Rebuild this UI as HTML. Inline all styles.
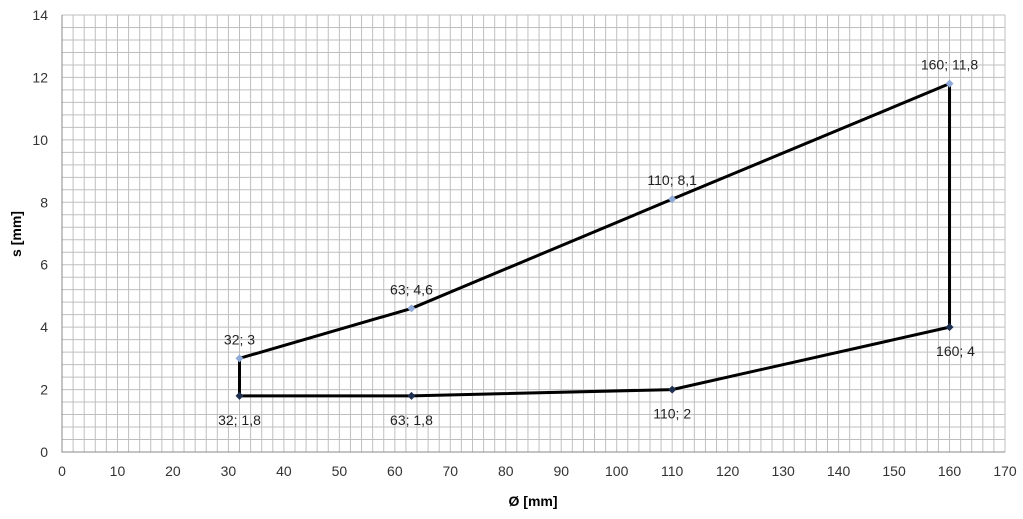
<!DOCTYPE html>
<html><head><meta charset="utf-8"><style>
body{margin:0;background:#fff;width:1023px;height:514px;overflow:hidden}
svg{font-family:"Liberation Sans",Calibri,sans-serif}
</style></head><body>
<svg width="1023" height="514">
<g id="grid"></g>
<g id="axes"></g>
<g id="series"></g>
<text x="533" y="506" font-size="14" font-weight="bold" text-anchor="middle">Ø [mm]</text>
<text transform="translate(21,234) rotate(-90)" font-size="14" font-weight="bold" text-anchor="middle">s [mm]</text>
</svg>
<script>
const upperX=[32,63,110,160];
const upperY=[3,4.6,8.1,11.8];
const lowerX=[32,63,110,160];
const lowerY=[1.8,1.8,2,4];
const upperLabels=["32; 3","63; 4,6","110; 8,1","160; 11,8"];
const lowerLabels=["32; 1,8","63; 1,8","110; 2","160; 4"];
const xTicks=[0,10,20,30,40,50,60,70,80,90,100,110,120,130,140,150,160,170];
const yTicks=[0,2,4,6,8,10,12,14];
const X0=62,X1=1005,Y0=452,Y1=15;
const sx=v=>X0+(X1-X0)*v/170, sy=v=>Y0-(Y0-Y1)*v/14;
const NS="http://www.w3.org/2000/svg";
function mk(p,t,a){const e=document.createElementNS(NS,t);for(const k in a)e.setAttribute(k,a[k]);p.appendChild(e);return e;}
const grid=document.getElementById('grid'),axes=document.getElementById('axes'),ser=document.getElementById('series');
for(let v=0;v<=170;v+=2){const l=mk(grid,'line',{x1:sx(v),x2:sx(v),y1:Y1,y2:Y0,stroke:'#bfbfbf','stroke-width':1});
}
for(let i=0;i<=35;i++){const v=i*0.4;const l=mk(grid,'line',{x1:X0,x2:X1,y1:sy(v),y2:sy(v),stroke:'#bfbfbf','stroke-width':1});
}
const ax=mk(axes,'path',{d:`M${X0},${Y1}V${Y0}H${X1}`,stroke:'#888',fill:'none'});

xTicks.forEach(v=>{const t=mk(axes,'text',{x:sx(v),y:Y0+24,'font-size':14,'text-anchor':'middle',fill:'#333'});t.textContent=v;
});
yTicks.forEach(v=>{const t=mk(axes,'text',{x:X0-14,y:sy(v)+5,'font-size':14,'text-anchor':'end',fill:'#333'});t.textContent=v;
});
let pts=[];upperX.forEach((x,i)=>pts.push([sx(x),sy(upperY[i])]));
for(let i=lowerX.length-1;i>=0;i--)pts.push([sx(lowerX[i]),sy(lowerY[i])]);
const poly=mk(ser,'polygon',{points:pts.map(p=>p.join(',')).join(' '),fill:'none',stroke:'#000','stroke-width':3,'stroke-linejoin':'miter'});

function dia(x,y,c,name){const d=mk(ser,'path',{d:`M${x},${y-4}L${x+4},${y}L${x},${y+4}L${x-4},${y}Z`,fill:c});
}
upperX.forEach((x,i)=>{dia(sx(x),sy(upperY[i]),'#8ea9d8','upper-point');
const t=mk(ser,'text',{x:sx(x),y:sy(upperY[i])-14,'font-size':14,'text-anchor':'middle',fill:'#222'});t.textContent=upperLabels[i];
});
lowerX.forEach((x,i)=>{dia(sx(x),sy(lowerY[i]),'#1f2f4f','lower-point');
const t=mk(ser,'text',{x:sx(x)+(i==3?6:0),y:sy(lowerY[i])+29,'font-size':14,'text-anchor':'middle',fill:'#222'});t.textContent=lowerLabels[i];
});
</script>
</body></html>
